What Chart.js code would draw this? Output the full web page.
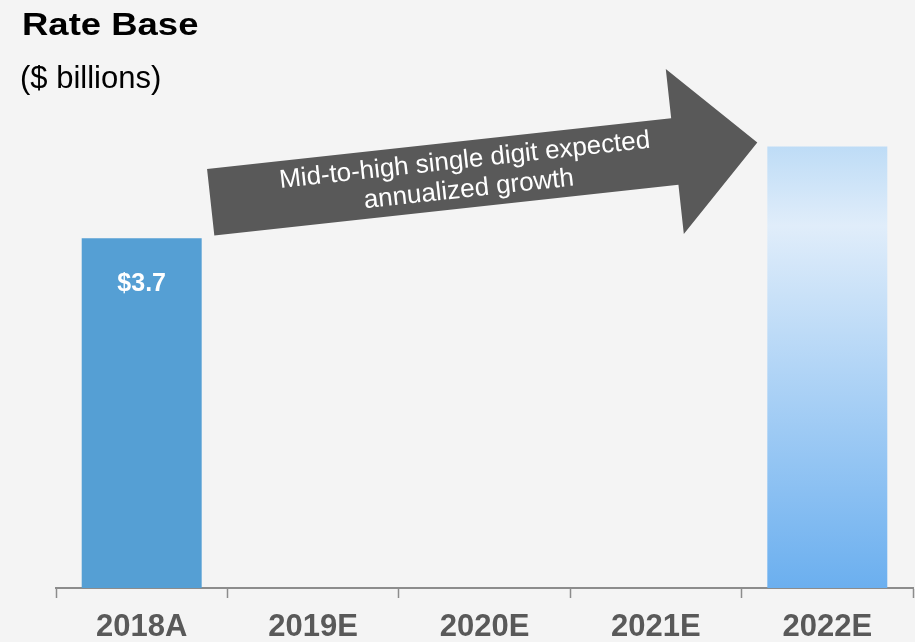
<!DOCTYPE html>
<html>
<head>
<meta charset="utf-8">
<title>Rate Base</title>
<script src="https://cdn.jsdelivr.net/npm/chart.js@4.4.1/dist/chart.umd.min.js"></script>
<style>
    html, body { margin: 0; padding: 0; background: #f4f4f4; }
    #wrap { position: relative; width: 915px; height: 642px; }
    #title {
        position: absolute; left: 22px; top: 8px;
        font: bold 32px "Liberation Sans", Arial, sans-serif; line-height: 32px; color: #000;
        transform: scaleX(1.14); transform-origin: left top; white-space: nowrap;
    }
    #subtitle {
        position: absolute; left: 20px; top: 62px;
        font: 31px "Liberation Sans", Arial, sans-serif; line-height: 31px; color: #000;
        white-space: nowrap;
    }
    #chart { position: absolute; left: 0; top: 0; }
</style>
</head>
<body>
<div id="wrap">
    <canvas id="chart" width="915" height="642"></canvas>
    <div id="title">Rate Base</div>
    <div id="subtitle">($ billions)</div>
</div>
<script>
// 数据
const categories = ['2018A', '2019E', '2020E', '2021E', '2022E'];
const rateBase = [3.7, null, null, null, 4.67];
const valueLabels = ['$3.7', '', '', '', ''];
const arrowText = ['Mid-to-high single digit expected', 'annualized growth'];

const FONT = '"Liberation Sans", Arial, sans-serif';

// 柱子颜色：实际值为实色，预测值为渐变
function barColor(ctx) {
    if (ctx.dataIndex !== 4) return '#559fd4';
    const chart = ctx.chart;
    if (!chart.chartArea) return '#9fcaf3';
    const y = chart.scales.y;
    const top = y.getPixelForValue(rateBase[4]);
    const bottom = y.getPixelForValue(0);
    const g = chart.ctx.createLinearGradient(0, top, 0, bottom);
    g.addColorStop(0, '#bedcf6');
    g.addColorStop(0.18, '#e0edfa');
    g.addColorStop(0.5, '#b2d5f6');
    g.addColorStop(1, '#6bafef');
    return g;
}

// 柱内数值标签
const barLabelPlugin = {
    id: 'barLabels',
    afterDatasetsDraw(chart) {
        const ctx = chart.ctx;
        const meta = chart.getDatasetMeta(0);
        ctx.save();
        ctx.font = 'bold 25px ' + FONT;
        ctx.fillStyle = '#ffffff';
        ctx.textAlign = 'center';
        ctx.textBaseline = 'middle';
        meta.data.forEach((bar, i) => {
            if (!valueLabels[i]) return;
            ctx.fillText(valueLabels[i], bar.x, bar.y + 46);
        });
        ctx.restore();
    }
};

// 增长箭头：从首根柱子指向末根柱子
const growthArrowPlugin = {
    id: 'growthArrow',
    afterDatasetsDraw(chart) {
        const meta = chart.getDatasetMeta(0);
        const first = meta.data[0];
        const last = meta.data[4];
        if (!first || !last) return;

        const sx = first.x + first.width / 2 + 9;
        const sy = first.y - 36;
        const tx = last.x - last.width / 2 - 10;
        const ty = last.y - 4;
        const angle = Math.atan2(ty - sy, tx - sx);
        const len = Math.hypot(tx - sx, ty - sy);
        const headLen = 83, headHalf = 83, shaftHalf = 33.5;

        const ctx = chart.ctx;
        ctx.save();
        ctx.translate(sx, sy);
        ctx.rotate(angle);
        ctx.beginPath();
        ctx.moveTo(0, -shaftHalf);
        ctx.lineTo(len - headLen, -shaftHalf);
        ctx.lineTo(len - headLen, -headHalf);
        ctx.lineTo(len, 0);
        ctx.lineTo(len - headLen, headHalf);
        ctx.lineTo(len - headLen, shaftHalf);
        ctx.lineTo(0, shaftHalf);
        ctx.closePath();
        ctx.fillStyle = '#595959';
        ctx.fill();

        ctx.font = '26px ' + FONT;
        ctx.fillStyle = '#ffffff';
        ctx.textAlign = 'center';
        ctx.textBaseline = 'alphabetic';
        ctx.fillText(arrowText[0], 257, -6.5);
        ctx.fillText(arrowText[1], 258, 22.8);
        ctx.restore();
    }
};

new Chart(document.getElementById('chart'), {
    type: 'bar',
    data: {
        labels: categories,
        datasets: [{
            data: rateBase,
            backgroundColor: barColor,
            borderWidth: 0,
            barPercentage: 0.7,
            categoryPercentage: 1
        }]
    },
    options: {
        responsive: false,
        animation: false,
        layout: { padding: { top: 68, left: 56, right: 2, bottom: 0 } },
        plugins: {
            legend: { display: false },
            tooltip: { enabled: false }
        },
        scales: {
            x: {
                // 固定轴高度，让绘图区底边落在 588px
                afterFit(scale) { scale.height = 54; },
                grid: {
                    display: true,
                    drawOnChartArea: false,
                    drawTicks: true,
                    tickLength: 10,
                    tickWidth: 1.5,
                    tickColor: '#8c8c8c',
                    offset: true
                },
                border: { display: true, color: '#8c8c8c', width: 2 },
                ticks: {
                    color: '#595959',
                    font: { family: FONT, size: 31, weight: 'bold' },
                    padding: 10.5,
                    maxRotation: 0
                }
            },
            y: {
                display: false,
                min: 0,
                max: 5.5
            }
        }
    },
    plugins: [barLabelPlugin, growthArrowPlugin]
});
</script>
</body>
</html>
